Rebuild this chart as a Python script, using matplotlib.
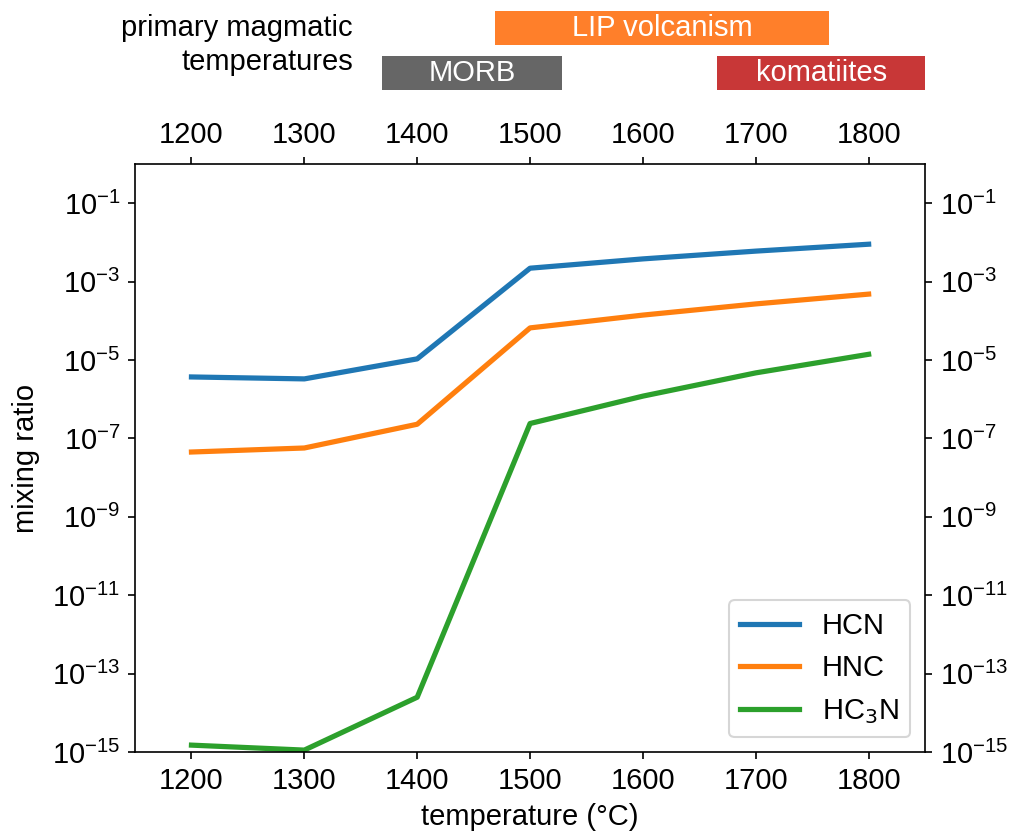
import matplotlib
matplotlib.use("Agg")
import matplotlib.pyplot as plt
from matplotlib.ticker import NullLocator

plt.rcParams["font.family"] = ["Liberation Sans", "DejaVu Sans"]
plt.rcParams["font.size"] = 14

# ===== data =====
temps = [1200, 1300, 1400, 1500, 1600, 1700, 1800]
hcn = [3.7e-6, 3.3e-6, 1.07e-5, 2.2e-3, 3.8e-3, 6.0e-3, 9.0e-3]
hnc = [4.5e-8, 5.7e-8, 2.3e-7, 6.6e-5, 1.4e-4, 2.7e-4, 4.8e-4]
hc3n = [1.5e-15, 1.12e-15, 2.5e-14, 2.4e-7, 1.2e-6, 4.7e-6, 1.4e-5]

# magmatic temperature ranges (start, end)
range_names = ["LIP volcanism", "MORB", "komatiites"]
range_start = [1469, 1369, 1666]
range_end = [1765, 1528, 1850]
range_row = [1, 0, 0]
range_colors = ["#ff7f2a", "#666666", "#c83737"]

# ===== figure =====
fig = plt.figure(figsize=(1013 / 150, 833 / 150), dpi=150)
ax = fig.add_axes([0.1333, 0.0972, 0.7799, 0.7059])

ax.plot(temps, hcn, color="#1f77b4", lw=2.5, label="HCN")
ax.plot(temps, hnc, color="#ff7f0e", lw=2.5, label="HNC")
ax.plot(temps, hc3n, color="#2ca02c", lw=2.5, label="HC$_3$N")

ax.set_yscale("log")
ax.set_ylim(1e-15, 1)
ax.set_xlim(1150, 1850)
ax.set_yticks([10.0 ** e for e in range(-15, 0, 2)])
ax.yaxis.set_minor_locator(NullLocator())
ax.set_xticks(temps)
ax.tick_params(which="both", top=True, labeltop=True, right=True, labelright=True)

ax.set_xlabel("temperature (°C)")
ax.set_ylabel("mixing ratio", labelpad=6)
ax.legend(loc="lower right", fontsize=14)

# ===== magmatic ranges =====
axb = fig.add_axes([0.1333, 0.8854, 0.7799, 0.1080])
axb.set_xlim(1150, 1850)
axb.set_ylim(-0.5, 1.5)
axb.axis("off")
for name, s, e, r, c in zip(range_names, range_start, range_end, range_row, range_colors):
    axb.barh(r, e - s, left=s, height=0.756, color=c)
    axb.text((s + e) / 2, r, name, color="white", ha="center", va="center", fontsize=14)

fig.text(0.3485, 0.9460, "primary magmatic\ntemperatures", ha="right", va="center",
         fontsize=14, linespacing=1.25)

fig.savefig("out.png", dpi=150)
